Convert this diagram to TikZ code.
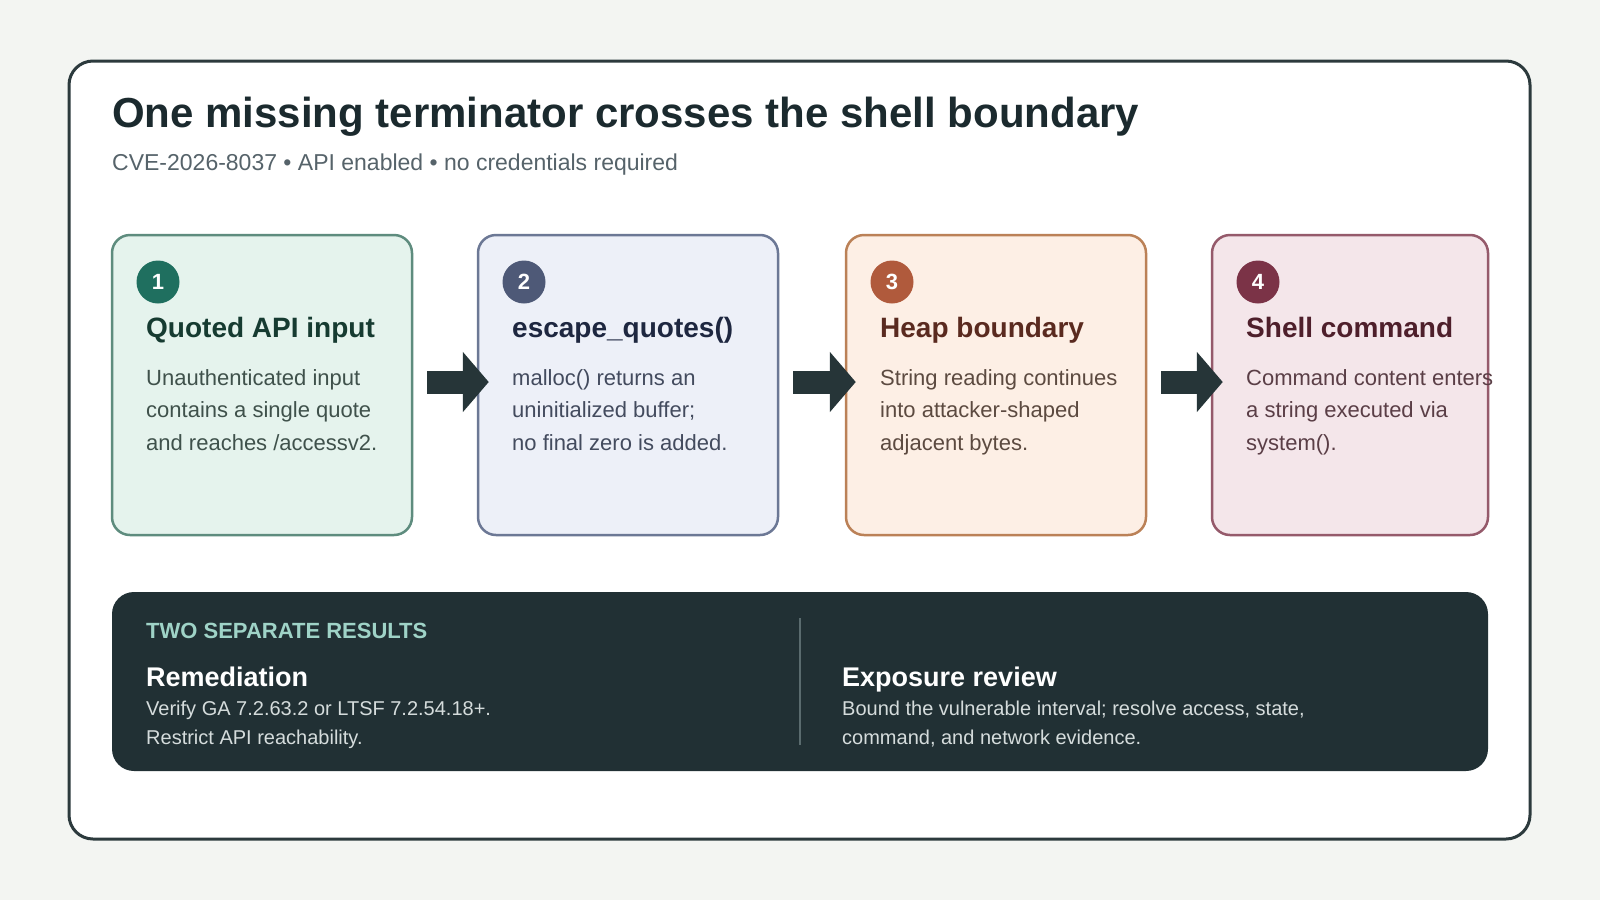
\documentclass[tikz,border=0pt]{standalone}
\usepackage{fontspec}
\setmainfont{Liberation Sans}
\usetikzlibrary{arrows.meta}
\definecolor{pagebg}{HTML}{F3F5F2}
\definecolor{framec}{HTML}{2C3A3D}
\definecolor{titlec}{HTML}{1B2A2E}
\definecolor{subc}{HTML}{56636A}
\definecolor{arrowc}{HTML}{263538}
\definecolor{panelc}{HTML}{213034}
\definecolor{mintc}{HTML}{9FD3C7}
\definecolor{paneltext}{HTML}{D5DCDC}
\definecolor{divc}{HTML}{5A6B6E}
\definecolor{fillA}{HTML}{E5F3ED}\definecolor{lineA}{HTML}{5E8C7E}\definecolor{dotA}{HTML}{1F6F5F}
\definecolor{headA}{HTML}{163B31}\definecolor{textA}{HTML}{3F514B}
\definecolor{fillB}{HTML}{EDF0F8}\definecolor{lineB}{HTML}{6C7895}\definecolor{dotB}{HTML}{4E5977}
\definecolor{headB}{HTML}{1E2740}\definecolor{textB}{HTML}{434B5E}
\definecolor{fillC}{HTML}{FDEFE5}\definecolor{lineC}{HTML}{BB8157}\definecolor{dotC}{HTML}{B05A3C}
\definecolor{headC}{HTML}{5A2A1F}\definecolor{textC}{HTML}{5C4A40}
\definecolor{fillD}{HTML}{F4E6EA}\definecolor{lineD}{HTML}{955A6B}\definecolor{dotD}{HTML}{7B3347}
\definecolor{headD}{HTML}{4E1F2B}\definecolor{textD}{HTML}{5A3E46}
\begin{document}
\begin{tikzpicture}[x=1pt,y=-1pt,
                card/.style={draw, line width=2.5pt, rounded corners=18pt, minimum width=300pt, minimum height=300pt},
                badge/.style={circle, minimum size=43pt, inner sep=0pt, text=white, font=\bfseries\fontsize{22}{26}\selectfont},
                head/.style={anchor=base west, inner sep=0pt, font=\bfseries\fontsize{28}{32}\selectfont},
                body/.style={anchor=base west, inner sep=0pt, align=left, font=\fontsize{22}{32.5}\selectfont},
                flow/.style={draw=arrowc, line width=23pt, -{Triangle[length=26pt,width=59pt]}}]
                \fill[pagebg] (0,0) rectangle (1600,900);
                \useasboundingbox (0,0) rectangle (1600,900);
                \filldraw[draw=framec, fill=white, line width=3pt, rounded corners=24pt] (69,61) rectangle (1530,839);
                \node[anchor=base west, inner sep=0pt, text=titlec, font=\bfseries\fontsize{42}{50}\selectfont] (title) at (112,127) {One missing terminator crosses the shell boundary};
                \node[anchor=base west, inner sep=0pt, text=subc, font=\fontsize{23}{28}\selectfont] (subtitle) at (112,170) {CVE-2026-8037 • API enabled • no credentials required};
                \node[card, draw=lineA, fill=fillA] (b1) at (262,385) {};
                \node[card, draw=lineB, fill=fillB] (b2) at (628,385) {};
                \node[card, draw=lineC, fill=fillC] (b3) at (996,385) {};
                \node[card, draw=lineD, fill=fillD, minimum width=276pt] (b4) at (1350,385) {};
                \node[badge, fill=dotA] (n1) at (158,282) {1};
                \node[badge, fill=dotB] (n2) at (524,282) {2};
                \node[badge, fill=dotC] (n3) at (892,282) {3};
                \node[badge, fill=dotD] (n4) at (1258,282) {4};
                \node[head, text=headA] (h1) at (146,337) {Quoted API input};
                \node[head, text=headB] (h2) at (512,337) {escape\_quotes()};
                \node[head, text=headC] (h3) at (880,337) {Heap boundary};
                \node[head, text=headD] (h4) at (1246,337) {Shell command};
                \node[body, text=textA] (t1) at (146,450) {Unauthenticated input\\contains a single quote\\and reaches /accessv2.};
                \node[body, text=textB] (t2) at (512,450) {malloc() returns an\\uninitialized buffer;\\no final zero is added.};
                \node[body, text=textC] (t3) at (880,450) {String reading continues\\into attacker-shaped\\adjacent bytes.};
                \node[body, text=textD] (t4) at (1246,450) {Command content enters\\a string executed via\\system().};
                \draw[flow] ([xshift=14pt,yshift=3pt]b1.east) -- ([xshift=12pt,yshift=3pt]b2.west);
                \draw[flow] ([xshift=14pt,yshift=3pt]b2.east) -- ([xshift=11pt,yshift=3pt]b3.west);
                \draw[flow] ([xshift=14pt,yshift=3pt]b3.east) -- ([xshift=12pt,yshift=3pt]b4.west);
                \fill[panelc, rounded corners=22pt] (112,592) rectangle (1488,771);
                \draw[divc, line width=1.5pt] (800,618) -- (800,745);
                \node[anchor=base west, inner sep=0pt, text=mintc, font=\bfseries\fontsize{22}{26}\selectfont] (tag) at (146,638) {TWO SEPARATE RESULTS};
                \node[anchor=base west, inner sep=0pt, text=white, font=\bfseries\fontsize{27}{32}\selectfont] (fix) at (146,686) {Remediation};
                \node[anchor=base west, inner sep=0pt, text=white, font=\bfseries\fontsize{27}{32}\selectfont] (rev) at (842,686) {Exposure review};
                \node[anchor=base west, inner sep=0pt, align=left, text=paneltext, font=\fontsize{20}{28.5}\selectfont] (fixtext) at (146,744) {Verify GA 7.2.63.2 or LTSF 7.2.54.18+.\\Restrict API reachability.};
                \node[anchor=base west, inner sep=0pt, align=left, text=paneltext, font=\fontsize{20}{28.5}\selectfont] (revtext) at (842,744) {Bound the vulnerable interval; resolve access, state,\\command, and network evidence.};
            \end{tikzpicture}
\end{document}
